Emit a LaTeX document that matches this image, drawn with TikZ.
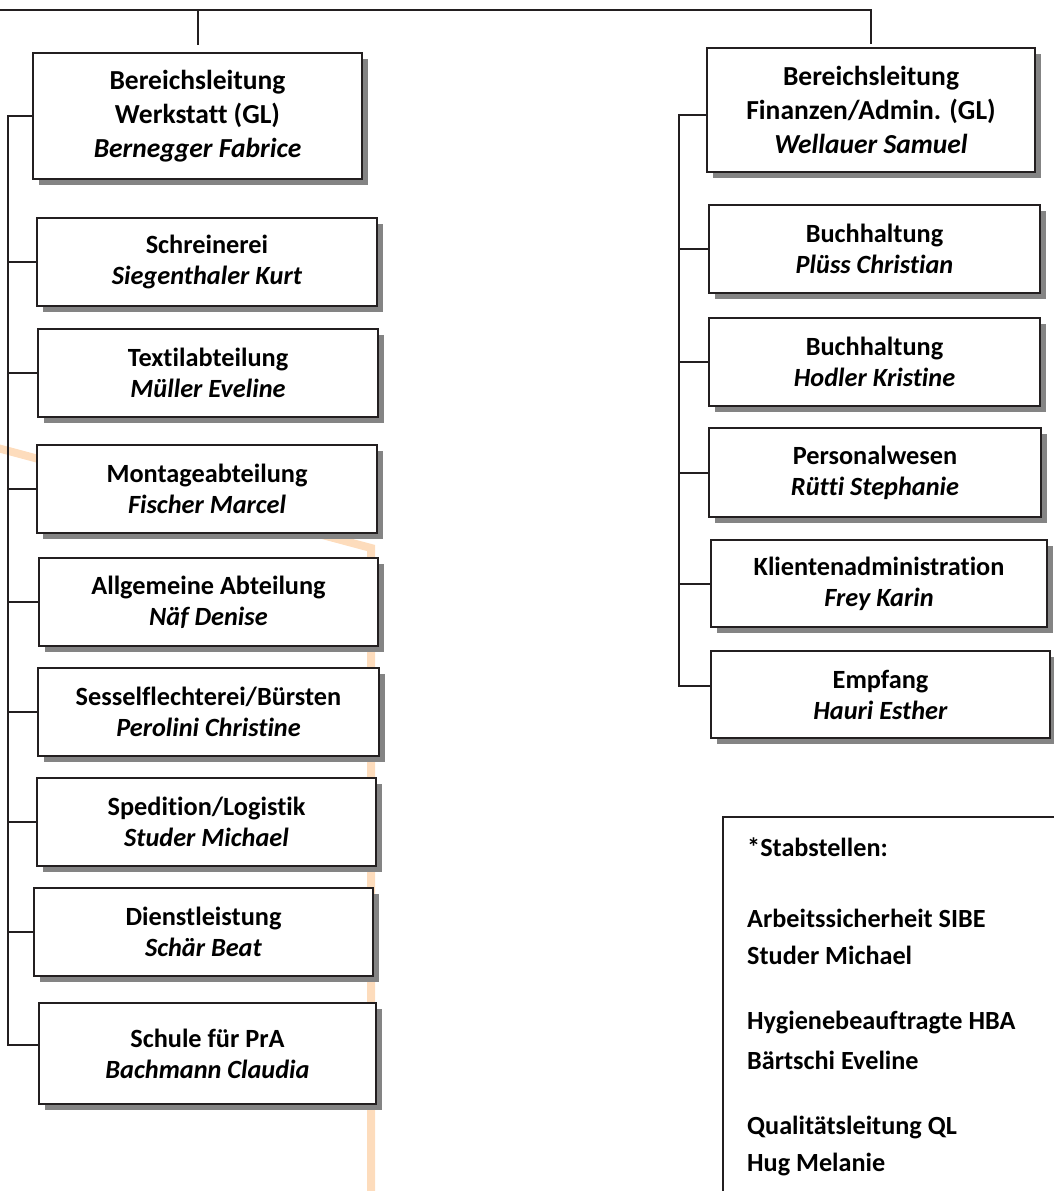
\documentclass[tikz,border=0pt]{standalone}
\usepackage{fontspec}
\setmainfont[Ligatures=NoCommon]{Carlito}
\usetikzlibrary{shadows}
\definecolor{ink}{HTML}{231F20}
\definecolor{shade}{HTML}{848484}
\definecolor{peach}{HTML}{FDDCBC}
\tikzset{
  orgbox/.style={draw=ink, line width=2pt, fill=white, align=center, inner sep=0pt,
    drop shadow={shadow xshift=6pt, shadow yshift=-6pt, fill=shade, opacity=1}},
  headbox/.style={orgbox, font=\bfseries\fontsize{27.5}{34}\selectfont},
  subbox/.style={orgbox, font=\bfseries\fontsize{26.3}{31}\selectfont},
  link/.style={draw=ink, line width=2pt},
  stabtext/.style={font=\bfseries\fontsize{26.2}{31}\selectfont, anchor=west, inner sep=0pt},
  orangeline/.style={draw=peach, line width=8pt}
}
\begin{document}
\begin{tikzpicture}[x=1pt, y=-1pt]
\useasboundingbox (0,0) rectangle (1054,1191);
\clip (0,0) rectangle (1054,1191);
% background decorative line
\draw[orangeline] (-10,446) -- (371,548) -- (371,1200);

% left column
\node[headbox, minimum width=329pt, minimum height=126pt] (L0) at (197.5,116)
  {Bereichsleitung\\Werkstatt (GL)\\\textit{Bernegger Fabrice}};
\node[subbox, minimum width=340pt, minimum height=88pt] (L1) at (207,262)
  {Schreinerei\\\textit{Siegenthaler Kurt}};
\node[subbox, minimum width=340pt, minimum height=88pt] (L2) at (208,373)
  {Textilabteilung\\\textit{Müller Eveline}};
\node[subbox, minimum width=340pt, minimum height=88pt] (L3) at (207,489)
  {Montageabteilung\\\textit{Fischer Marcel}};
\node[subbox, minimum width=339pt, minimum height=88pt] (L4) at (208.5,602)
  {Allgemeine Abteilung\\\textit{Näf Denise}};
\node[subbox, minimum width=341pt, minimum height=88pt] (L5) at (208.5,711.5)
  {Sesselflechterei/Bürsten\\\textit{Perolini Christine}};
\node[subbox, minimum width=339pt, minimum height=88pt] (L6) at (206.5,822)
  {Spedition/Logistik\\\textit{Studer Michael}};
\node[subbox, minimum width=339pt, minimum height=88pt] (L7) at (203.5,931.5)
  {Dienstleistung\\\textit{Schär Beat}};
\node[subbox, minimum width=337pt, minimum height=101pt] (L8) at (207.5,1053.5)
  {Schule für PrA\\\textit{Bachmann Claudia}};

% right column
\node[headbox, minimum width=328pt, minimum height=124pt] (R0) at (871,110)
  {Bereichsleitung\\Finanzen/Admin. (GL)\\\textit{Wellauer Samuel}};
\node[subbox, minimum width=331pt, minimum height=88pt] (R1) at (874.5,249)
  {Buchhaltung\\\textit{Plüss Christian}};
\node[subbox, minimum width=331pt, minimum height=88pt] (R2) at (874.5,361.5)
  {Buchhaltung\\\textit{Hodler Kristine}};
\node[subbox, minimum width=332pt, minimum height=89pt] (R3) at (875,472.5)
  {Personalwesen\\\textit{Rütti Stephanie}};
\node[subbox, minimum width=336pt, minimum height=87pt] (R4) at (879,583.5)
  {Klientenadministration\\\textit{Frey Karin}};
\node[subbox, minimum width=339pt, minimum height=87pt] (R5) at (880.5,694.5)
  {Empfang\\\textit{Hauri Esther}};

% top connectors
\coordinate (top) at (0,10);
\coordinate (L0in) at ([yshift=7pt]L0.north);
\coordinate (R0in) at ([yshift=3pt]R0.north);
\draw[link] (top) -- (top -| R0in) -- (R0in);
\draw[link] (top -| L0in) -- (L0in);

% left bus
\coordinate (lb) at (8,116);
\coordinate (L8in) at ([yshift=8.5pt]L8.west);
\draw[link] (L0.west) -- (lb) -- (lb |- L8in) -- (L8in);
\foreach \n in {L1,L2,L3,L4,L5,L6,L7}
  \draw[link] (lb |- \n.west) -- (\n.west);

% right bus
\coordinate (rb) at (679,115);
\coordinate (R5in) at ([yshift=8.5pt]R5.west);
\draw[link] (rb -| R0.west) -- (rb) -- (rb |- R5in) -- (R5in);
\foreach \n in {R1,R2,R3,R4}
  \draw[link] (rb |- \n.west) -- (\n.west);

% Stabstellen box
\draw[ink, line width=2pt] (723,817) rectangle (1080,1220);
\node[stabtext] (s1) at (747,847) {*Stabstellen:};
\node[stabtext] (s2) at (747,918) {Arbeitssicherheit SIBE};
\node[stabtext] (s3) at (747,955) {Studer Michael};
\node[stabtext] (s4) at (747,1023) {Hygienebeauftragte HBA};
\node[stabtext] (s5) at (747,1060) {Bärtschi Eveline};
\node[stabtext] (s6) at (747,1128) {Qualitätsleitung QL};
\node[stabtext] (s7) at (747,1165) {Hug Melanie};
\end{tikzpicture}
\end{document}
